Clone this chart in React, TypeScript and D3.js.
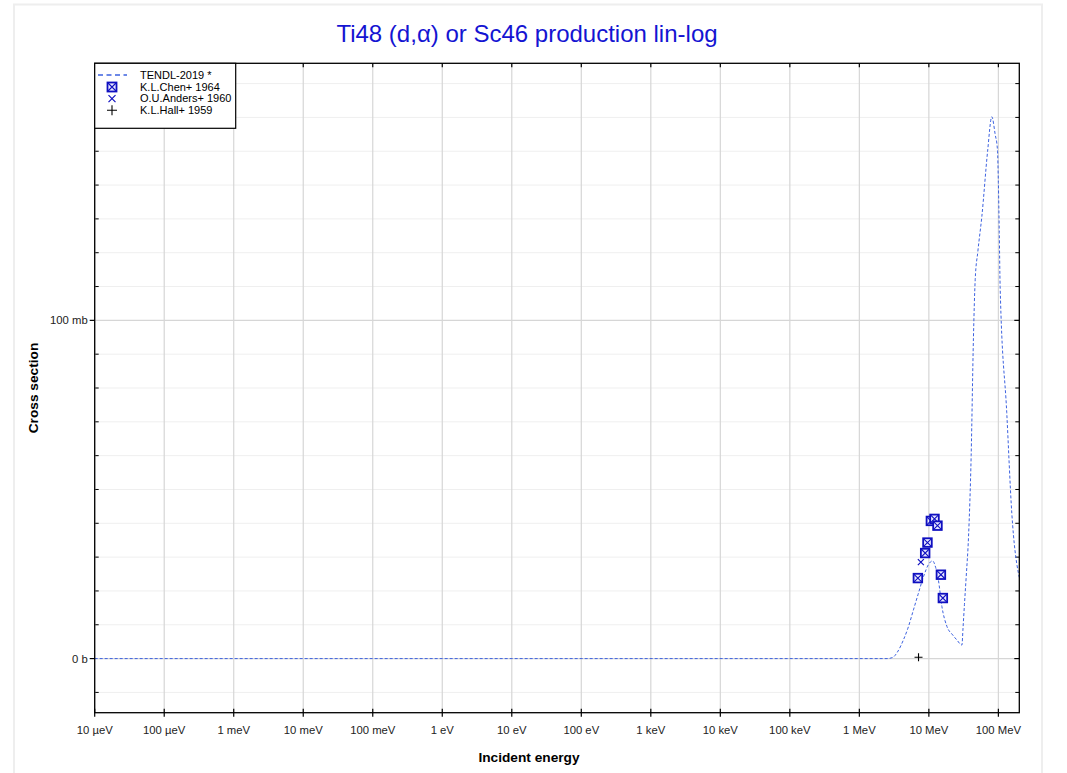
import * as React from 'react';
import * as d3 from 'd3';

// TENDL-2019 evaluated curve (energy in eV, cross section in mb)
const tendlEnergy = [
  1e-5, 1e6, 2.5e6, 3.0e6, 3.5e6, 4.3e6, 5e6, 6e6, 7e6, 8.4e6, 10e6, 11.3e6, 12.5e6,
  13.7e6, 15.4e6, 18.2e6, 22e6, 25.3e6, 29.9e6, 31e6, 32.5e6, 34.4e6, 37.2e6, 40.6e6,
  43.8e6, 46.4e6, 50.7e6, 57.9e6, 70e6, 80.5e6, 89.9e6, 97e6, 100e6, 103e6, 106e6, 132e6,
  156e6, 194e6, 2e8,
];
const tendlXs = [
  0, 0, 0, 0.3, 1.8, 5.5, 9, 14.4, 19, 24.3, 28, 28.9, 27, 23.3, 15.4, 9.5, 7, 5.5, 4,
  9, 16, 24, 36, 60, 95, 112, 120.4, 130.8, 150, 160.2, 155, 150.5, 140.7, 126, 110,
  72.7, 43, 25.3, 24,
];

// EXFOR data
const chenEnergy = [6.95e6, 8.85e6, 9.55e6, 10.69e6, 12.05e6, 13.3e6, 14.9e6, 15.9e6];
const chenXs = [23.8, 31.2, 34.3, 40.7, 41.3, 39.3, 24.8, 17.9];
const andersEnergy = [7.67e6];
const andersXs = [28.5];
const hallEnergy = [7.1e6];
const hallXs = [0.4];

const xTickValues = [1e-5, 1e-4, 1e-3, 1e-2, 1e-1, 1, 10, 100, 1e3, 1e4, 1e5, 1e6, 1e7, 1e8];
const xTickLabels = [
  '10 µeV', '100 µeV', '1 meV', '10 meV', '100 meV', '1 eV', '10 eV', '100 eV',
  '1 keV', '10 keV', '100 keV', '1 MeV', '10 MeV', '100 MeV',
];
const yMajorValues = [0, 100];
const yMajorLabels = ['0 b', '100 mb'];
const legendLabels = ['TENDL-2019 *', 'K.L.Chen+ 1964', 'O.U.Anders+ 1960', 'K.L.Hall+ 1959'];

const LINE_COLOR = '#3d62e0';
const POINT_COLOR = '#1010c0';
const FONT = 'Arial, "Liberation Sans", Helvetica, sans-serif';

const M = { left: 94.7, right: 1019.3, top: 63.3, bottom: 712.7 };

function ChenMarker({ x, y, s = 4.3 }: { x: number; y: number; s?: number }) {
  return (
    <g>
      <rect x={x - s} y={y - s} width={2 * s} height={2 * s} fill="#e8e8ff" stroke={POINT_COLOR} strokeWidth={1.8} />
      <path d={`M${x - s},${y - s}L${x + s},${y + s}M${x + s},${y - s}L${x - s},${y + s}`} stroke={POINT_COLOR} strokeWidth={1.1} />
    </g>
  );
}

function CrossMarker({ x, y, s = 3 }: { x: number; y: number; s?: number }) {
  return (
    <path d={`M${x - s},${y - s}L${x + s},${y + s}M${x + s},${y - s}L${x - s},${y + s}`} stroke={POINT_COLOR} strokeWidth={1.2} />
  );
}

function PlusMarker({ x, y, s = 4 }: { x: number; y: number; s?: number }) {
  return <path d={`M${x - s},${y}L${x + s},${y}M${x},${y - s}L${x},${y + s}`} stroke="#000" strokeWidth={1.1} />;
}

export default function App() {
  const x = d3.scaleLog().domain([1e-5, 2e8]).range([M.left, M.right]);
  const y = d3.scaleLinear().domain([-16, 176]).range([M.bottom, M.top]);

  const line = d3
    .line<number>()
    .x((_, i) => x(tendlEnergy[i]))
    .y((d) => y(d))
    .curve(d3.curveMonotoneX);

  const yMinor = d3.range(-10, 176, 10).filter((v) => v !== 0 && v !== 100);

  return (
    <svg
      width={1067}
      height={773}
      style={{ position: 'absolute', left: 0, top: 0, fontFamily: FONT }}
    >
      <rect x={0} y={0} width={1067} height={773} fill="#fff" />
      {/* outer frame */}
      <rect x={14} y={4.5} width={1028} height={800} fill="none" stroke="#eeeeee" strokeWidth={2} />

      <text x={527} y={42} textAnchor="middle" fontSize={24} fill="#1414d2">
        Ti48 (d,α) or Sc46 production lin-log
      </text>

      {/* minor horizontal grid */}
      {yMinor.map((v) => (
        <g key={`ym${v}`}>
          <line x1={M.left} x2={M.right} y1={y(v)} y2={y(v)} stroke="#efefef" strokeWidth={1} />
          <line x1={M.left} x2={M.left + 4} y1={y(v)} y2={y(v)} stroke="#000" />
          <line x1={M.right - 4} x2={M.right} y1={y(v)} y2={y(v)} stroke="#000" />
        </g>
      ))}
      {/* vertical grid */}
      {xTickValues.map((v) => (
        <line key={`xg${v}`} x1={x(v)} x2={x(v)} y1={M.top} y2={M.bottom} stroke="#d6d6d6" strokeWidth={1.2} />
      ))}
      {/* major horizontal grid */}
      {yMajorValues.map((v) => (
        <line key={`yg${v}`} x1={M.left} x2={M.right} y1={y(v)} y2={y(v)} stroke="#d6d6d6" strokeWidth={1.2} />
      ))}

      {/* TENDL curve */}
      <path d={line(tendlXs) || ''} fill="none" stroke={LINE_COLOR} strokeWidth={1} strokeDasharray="3,2" />

      {/* EXFOR points */}
      {chenEnergy.map((e, i) => (
        <ChenMarker key={`c${i}`} x={x(e)} y={y(chenXs[i])} />
      ))}
      {andersEnergy.map((e, i) => (
        <CrossMarker key={`a${i}`} x={x(e)} y={y(andersXs[i])} />
      ))}
      {hallEnergy.map((e, i) => (
        <PlusMarker key={`h${i}`} x={x(e)} y={y(hallXs[i])} />
      ))}

      {/* plot frame */}
      <rect x={M.left} y={M.top} width={M.right - M.left} height={M.bottom - M.top} fill="none" stroke="#000" strokeWidth={1.3} />

      {/* x ticks */}
      {xTickValues.map((v, i) => (
        <g key={`xt${v}`}>
          <line x1={x(v)} x2={x(v)} y1={M.bottom - 4} y2={M.bottom + 4} stroke="#000" strokeWidth={1.2} />
          <line x1={x(v)} x2={x(v)} y1={M.top} y2={M.top + 4} stroke="#000" strokeWidth={1.2} />
          <text x={x(v)} y={734} textAnchor="middle" fontSize={11.3} fill="#222">
            {xTickLabels[i]}
          </text>
        </g>
      ))}
      {/* y ticks */}
      {yMajorValues.map((v, i) => (
        <g key={`yt${v}`}>
          <line x1={M.left - 5} x2={M.left} y1={y(v)} y2={y(v)} stroke="#000" strokeWidth={1.2} />
          <line x1={M.right - 5} x2={M.right} y1={y(v)} y2={y(v)} stroke="#000" strokeWidth={1.2} />
          <text x={M.left - 7} y={y(v) + 4} textAnchor="end" fontSize={11.3} fill="#222">
            {yMajorLabels[i]}
          </text>
        </g>
      ))}

      <text x={529} y={762} textAnchor="middle" fontSize={13.7} fontWeight="bold" fill="#000">
        Incident energy
      </text>
      <text
        transform={`translate(38,${(M.top + M.bottom) / 2}) rotate(-90)`}
        textAnchor="middle"
        fontSize={13.7}
        fontWeight="bold"
        fill="#000"
      >
        Cross section
      </text>

      {/* legend */}
      <g>
        <rect x={M.left} y={M.top} width={141} height={65} fill="#fff" stroke="#000" strokeWidth={1.2} />
        <line x1={98} x2={127} y1={75} y2={75} stroke={LINE_COLOR} strokeWidth={1.6} strokeDasharray="5,3.5" />
        <ChenMarker x={112} y={87} s={4.5} />
        <CrossMarker x={112} y={98.7} s={3.5} />
        <PlusMarker x={112} y={110.3} s={5} />
        {legendLabels.map((t, i) => (
          <text key={t} x={140} y={78.8 + i * 11.7} fontSize={11} fill="#000">
            {t}
          </text>
        ))}
      </g>
    </svg>
  );
}
